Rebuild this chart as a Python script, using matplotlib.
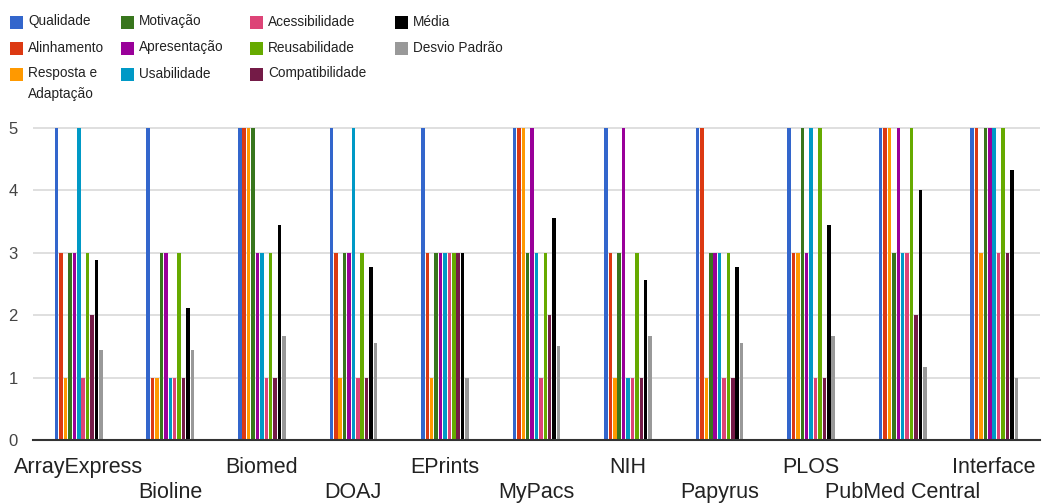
import matplotlib
matplotlib.use("Agg")
import matplotlib.pyplot as plt
from matplotlib.patches import Rectangle
import numpy as np

plt.rcParams['font.family'] = ['Liberation Sans', 'DejaVu Sans']

categories = ["ArrayExpress", "Bioline", "Biomed", "DOAJ", "EPrints", "MyPacs",
              "NIH", "Papyrus", "PLOS", "PubMed Central", "Interface"]

qualidade       = [5, 5, 5, 5, 5, 5, 5, 5, 5, 5, 5]
alinhamento     = [3, 1, 5, 3, 3, 5, 3, 5, 3, 5, 5]
resposta        = [1, 1, 5, 1, 1, 5, 1, 1, 3, 5, 3]
motivacao       = [3, 3, 5, 3, 3, 3, 3, 3, 5, 3, 5]
apresentacao    = [3, 3, 3, 3, 3, 5, 5, 3, 3, 5, 5]
usabilidade     = [5, 1, 3, 5, 3, 3, 1, 3, 5, 3, 5]
acessibilidade  = [1, 1, 1, 1, 3, 1, 1, 1, 1, 3, 3]
reusabilidade   = [3, 3, 3, 3, 3, 3, 3, 3, 5, 5, 5]
compatibilidade = [2, 1, 1, 1, 3, 2, 1, 1, 1, 2, 3]
media           = [2.89, 2.11, 3.44, 2.78, 3.00, 3.56, 2.56, 2.78, 3.44, 4.00, 4.33]
desvio          = [1.45, 1.45, 1.67, 1.56, 1.00, 1.51, 1.67, 1.56, 1.67, 1.17, 1.00]

series_names = ["Qualidade", "Alinhamento", "Resposta e\nAdaptação", "Motivação",
                "Apresentação", "Usabilidade", "Acessibilidade", "Reusabilidade",
                "Compatibilidade", "Média", "Desvio Padrão"]
series_values = [qualidade, alinhamento, resposta, motivacao, apresentacao,
                 usabilidade, acessibilidade, reusabilidade, compatibilidade,
                 media, desvio]
colors = ["#3366cc", "#dc3912", "#ff9900", "#38761d", "#990099", "#0099c6",
          "#dd4477", "#66aa00", "#741b47", "#000000", "#999999"]

W, H = 1055, 503
fig = plt.figure(figsize=(W / 100, H / 100), dpi=100)

y0_px = 440
px_per_unit = 62.4
ytop = 5.05
ax_left, ax_right = 33, 1040
ax_top_px = y0_px - ytop * px_per_unit
ax = fig.add_axes([ax_left / W, 1 - y0_px / H, (ax_right - ax_left) / W,
                   (y0_px - ax_top_px) / H])

n = len(series_values)
group_w = 0.53
slot = group_w / n
x = np.arange(len(categories))
for i, (vals, c) in enumerate(zip(series_values, colors)):
    ax.bar(x + (i - (n - 1) / 2) * slot, vals, width=slot * 0.8, color=c,
           zorder=3, linewidth=0)

ax.set_xlim(-0.5, 10.5)
ax.set_ylim(0, ytop)
ax.set_yticks([0, 1, 2, 3, 4, 5])
ax.set_yticklabels(["0", "1", "2", "3", "4", "5"])
ax.tick_params(axis='y', length=0, pad=11, labelsize=12, labelcolor="#444444")
ax.grid(axis='y', color="#d9d9d9", linewidth=1.2, zorder=0)
for s in ["top", "right", "left"]:
    ax.spines[s].set_visible(False)
ax.spines["bottom"].set_color("#333333")
ax.spines["bottom"].set_linewidth(1.5)
ax.spines["bottom"].set_zorder(4)

ax.set_xticks(x[::2])
ax.set_xticklabels(categories[::2])
ax.set_xticks(x[1::2], minor=True)
ax.set_xticklabels(categories[1::2], minor=True)
ax.tick_params(axis='x', which='major', length=0, pad=12.5, labelsize=15.5,
               labelcolor="#222222")
ax.tick_params(axis='x', which='minor', length=0, pad=30, labelsize=15.5,
               labelcolor="#222222")

# legend drawn in figure pixel coordinates
col_sq_x = [10, 121, 250, 395]
row_y = [22, 48, 74]
sq = 13
layout = [(0, 0), (0, 1), (0, 2), (1, 0), (1, 1), (1, 2), (2, 0), (2, 1), (2, 2),
          (3, 0), (3, 1)]
for (ci, ri), name, c in zip(layout, series_names, colors):
    xs = col_sq_x[ci]
    yc = row_y[ri]
    fig.patches.append(Rectangle((xs / W, 1 - (yc + sq / 2) / H), sq / W, sq / H,
                                 transform=fig.transFigure, facecolor=c,
                                 edgecolor="none"))
    fig.text((xs + sq + 5) / W, 1 - (yc - 7.5) / H, name, fontsize=9.8,
             color="#222222", va='top', ha='left', linespacing=1.6)

fig.savefig("out.png", dpi=100, facecolor="white")
